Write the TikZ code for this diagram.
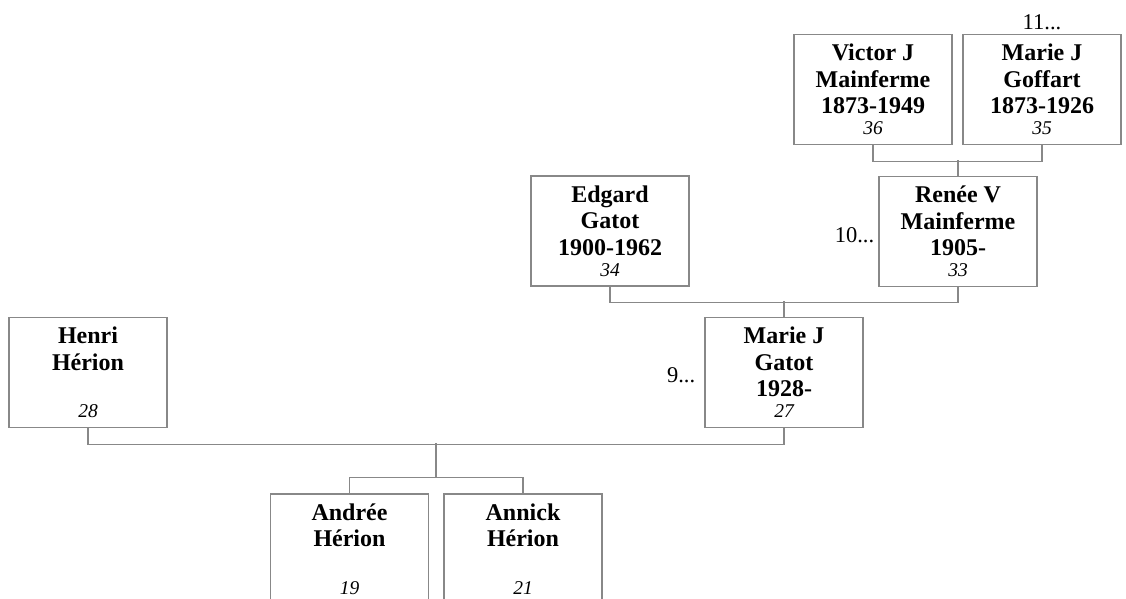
\documentclass[tikz,border=0pt]{standalone}
\usepackage{fontspec}
\setmainfont{Liberation Serif}
\usetikzlibrary{positioning}
\definecolor{linegray}{RGB}{136,136,136}
\newcommand{\num}[1]{{\fontsize{19.5}{21}\selectfont\mdseries\itshape #1}}
\begin{document}
\begin{tikzpicture}[x=1pt,y=-1pt,
   person/.style={draw=linegray,line width=1.3pt,minimum width=158pt,minimum height=110pt,inner sep=0pt,align=center,font=\fontsize{24}{26.5}\selectfont\bfseries},
   link/.style={draw=linegray,line width=1.3pt},
   more/.style={inner sep=1pt,font=\fontsize{22.5}{24}\selectfont}]
   \useasboundingbox (0,0) rectangle (1126,598);
   \clip (0,0) rectangle (1126,598);
   \node[person] (victor) at (873,89.5) {Victor J\\Mainferme\\1873-1949\\[-5.5pt]\num{36}};
   \node[person] (goffart) at (1042,89.5) {Marie J\\Goffart\\1873-1926\\[-5.5pt]\num{35}};
   \node[person] (edgard) at (610,231) {Edgard\\Gatot\\1900-1962\\[-5.5pt]\num{34}};
   \node[person] (renee) at (958,231.5) {Renée V\\Mainferme\\1905-\\[-5.5pt]\num{33}};
   \node[person] (henri) at (88,372.5) {Henri\\Hérion\\\mbox{}\\[-5.5pt]\num{28}};
   \node[person] (gatot) at (784,372.5) {Marie J\\Gatot\\1928-\\[-5.5pt]\num{27}};
   \node[person] (andree) at (349.5,549) {Andrée\\Hérion\\\mbox{}\\[-5.5pt]\num{19}};
   \node[person] (annick) at (523,549) {Annick\\Hérion\\\mbox{}\\[-5.5pt]\num{21}};
   \node[more,above=3pt of goffart] (more11) {11...};
   \node[more,left=3pt of renee,yshift=-4pt] (more10) {10...};
   \node[more,left=8pt of gatot,yshift=-3pt] (more9) {9...};
   \coordinate (fam) at (436,443);
   \coordinate (kids) at (436,478);
   \draw[link] (victor.south) -- ++(0,16) -| (goffart.south);
   \draw[link] (renee.north) -- ++(0,-16);
   \draw[link] (edgard.south) -- ++(0,16) -| (renee.south);
   \draw[link] (gatot.north) -- ++(0,-16);
   \draw[link] (henri.south) -- ++(0,16) -| (gatot.south);
   \draw[link] (fam) -- (kids);
   \draw[link] (andree.north) -- ++(0,-16) -| (annick.north);
\end{tikzpicture}
\end{document}
